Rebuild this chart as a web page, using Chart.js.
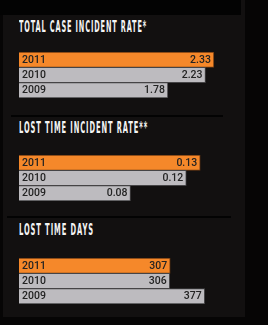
<!DOCTYPE html>
<html>
<head>
<meta charset="utf-8">
<script src="https://cdn.jsdelivr.net/npm/chart.js@4/dist/chart.umd.min.js"></script>
<style>
  body { margin: 0; background: #060505; width: 268px; height: 325px; overflow: hidden; position: relative; }
  #panel { position: absolute; left: 3px; top: 0; width: 242px; height: 317px; background: #121010; }
  #topbar { position: absolute; left: 0; top: 0; width: 241px; height: 15px; background: #030303; }
  .rule { position: absolute; height: 2px; background: #030303; }
  .title { position: absolute; left: 19px; color: #f4f4f4; font-family: 'DejaVu Sans Condensed', 'DejaVu Sans', sans-serif;
    font-weight: bold; font-size: 16.5px; line-height: 16px; white-space: nowrap; letter-spacing: 2px; transform-origin: 0 0; }
  canvas { position: absolute; left: 19px; }
</style>
</head>
<body>
<div id="panel"></div>
<div id="topbar"></div>
<div class="rule" style="left:11px; top:115px; width:212px;"></div>
<div class="rule" style="left:7px; top:216px; width:224px;"></div>

<div class="title" id="t1" style="top:19px;">TOTAL CASE INCIDENT RATE*</div>
<div class="title" id="t2" style="top:120px;">LOST TIME INCIDENT RATE**</div>
<div class="title" id="t3" style="top:222px;">LOST TIME DAYS</div>

<canvas id="chartOne" width="230" height="46" style="top:52px;"></canvas>
<canvas id="chartTwo" width="230" height="46" style="top:155px;"></canvas>
<canvas id="chartThree" width="230" height="46" style="top:258px;"></canvas>

<script>
'use strict';

// *************** Data ***************
let years = ['2011', '2010', '2009'];
let caseRate = [2.33, 2.23, 1.78];
let caseRateText = ['2.33', '2.23', '1.78'];
let lostRate = [0.13, 0.12, 0.08];
let lostRateText = ['0.13', '0.12', '0.08'];
let lostDays = [307, 306, 377];
let lostDaysText = ['307', '306', '377'];

let barColors = ['#f5882a', '#bdbbbf', '#bdbbbf'];
let edgeColors = ['#6e3a12', '#454446', '#454446'];

// squeeze the titles to the narrow look of the original
let titleWidths = { t1: 128, t2: 129, t3: 75 };
for (let id in titleWidths) {
  let el = document.getElementById(id);
  let s = titleWidths[id] / el.offsetWidth;
  el.style.transform = 'scale(' + s + ',1)';
}

// *************** labels inside the bars ***************
function makeLabels(texts) {
  return {
    id: 'insideLabels',
    afterDatasetsDraw(chart) {
      let ctx = chart.ctx;
      let bars = chart.getDatasetMeta(0).data;
      ctx.save();
      ctx.font = '500 10.5px Roboto, "Liberation Sans", Arial, sans-serif';
      ctx.fillStyle = '#232323';
      ctx.textBaseline = 'middle';
      for (let i = 0; i < bars.length; i++) {
        let b = bars[i];
        ctx.textAlign = 'left';
        ctx.fillText(chart.data.labels[i], chart.chartArea.left + 3, b.y + 0.5);
        ctx.textAlign = 'right';
        ctx.fillText(texts[i], b.x - 3, b.y + 0.5);
      }
      ctx.restore();
    }
  };
}

function renderChart(canvasId, values, texts, maxValue) {
  let ctx = document.getElementById(canvasId).getContext('2d');
  return new Chart(ctx, {
    type: 'bar',
    data: {
      labels: years,
      datasets: [{
        data: values,
        backgroundColor: barColors,
        borderColor: edgeColors,
        borderWidth: 1,
        barPercentage: 1,
        categoryPercentage: 1
      }]
    },
    options: {
      indexAxis: 'y',
      responsive: false,
      animation: false,
      devicePixelRatio: 1,
      layout: { padding: 0 },
      plugins: { legend: { display: false }, tooltip: { enabled: false } },
      scales: {
        x: { display: false, min: 0, max: maxValue },
        y: { display: false }
      }
    },
    plugins: [makeLabels(texts)]
  });
}

renderChart('chartOne', caseRate, caseRateText, 2.75);
renderChart('chartTwo', lostRate, lostRateText, 0.165);
renderChart('chartThree', lostDays, lostDaysText, 467);
</script>
</body>
</html>
